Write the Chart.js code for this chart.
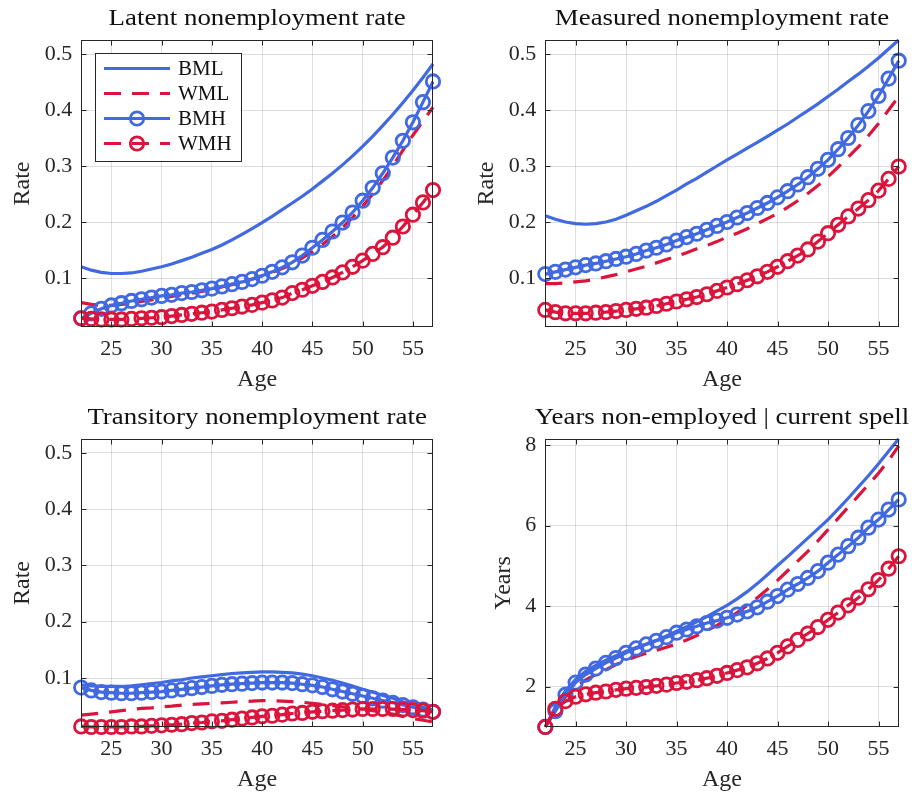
<!DOCTYPE html>
<html><head><meta charset="utf-8">
<script src="https://cdn.jsdelivr.net/npm/chart.js@4.4.1/dist/chart.umd.min.js"></script>
<style>
html,body{margin:0;padding:0;background:#fff;}
#wrap{position:relative;width:912px;height:796px;background:#fff;}
canvas{position:absolute;}
</style></head><body>
<div id="wrap">
<canvas id="c1" width="456" height="398" style="left:0;top:0"></canvas>
<canvas id="c2" width="456" height="398" style="left:456px;top:0"></canvas>
<canvas id="c3" width="456" height="398" style="left:0;top:398px"></canvas>
<canvas id="c4" width="456" height="398" style="left:456px;top:398px"></canvas>
</div>
<script>
const ages = [22,23,24,25,26,27,28,29,30,31,32,33,34,35,36,37,38,39,40,41,42,43,44,45,46,47,48,49,50,51,52,53,54,55,56,57];
const seriesNames = ['BML','WML','BMH','WMH'];
const xTicks = [25,30,35,40,45,50,55];
const rateTicks = [0.1,0.2,0.3,0.4,0.5];
const yearTicks = [2,4,6,8];

const latentBML = [0.120,0.114,0.110,0.108,0.108,0.109,0.112,0.116,0.120,0.125,0.131,0.137,0.144,0.151,0.159,0.168,0.178,0.188,0.199,0.210,0.222,0.234,0.246,0.259,0.273,0.287,0.302,0.318,0.335,0.353,0.372,0.392,0.413,0.435,0.458,0.482];
const latentWML = [0.056,0.053,0.051,0.051,0.053,0.055,0.058,0.061,0.064,0.067,0.070,0.073,0.076,0.080,0.084,0.088,0.093,0.098,0.104,0.110,0.117,0.125,0.136,0.147,0.160,0.174,0.190,0.208,0.228,0.250,0.274,0.300,0.328,0.355,0.380,0.405];
const latentBMH = [0.028,0.037,0.045,0.051,0.055,0.059,0.062,0.065,0.068,0.070,0.073,0.075,0.078,0.081,0.085,0.089,0.093,0.098,0.104,0.111,0.119,0.128,0.140,0.154,0.168,0.183,0.199,0.217,0.238,0.261,0.287,0.315,0.345,0.378,0.414,0.451];
const latentWMH = [0.028,0.027,0.026,0.026,0.026,0.027,0.028,0.029,0.030,0.032,0.034,0.036,0.038,0.040,0.043,0.046,0.049,0.052,0.056,0.060,0.065,0.073,0.079,0.086,0.093,0.101,0.110,0.120,0.131,0.143,0.155,0.172,0.192,0.213,0.235,0.257];

const measBML = [0.211,0.205,0.200,0.197,0.196,0.197,0.200,0.205,0.212,0.220,0.228,0.237,0.247,0.257,0.268,0.278,0.289,0.300,0.311,0.321,0.332,0.342,0.353,0.364,0.375,0.387,0.399,0.411,0.424,0.437,0.451,0.464,0.478,0.493,0.509,0.525];
const measWML = [0.090,0.090,0.091,0.093,0.095,0.098,0.102,0.106,0.111,0.116,0.121,0.127,0.133,0.139,0.145,0.152,0.158,0.165,0.173,0.180,0.188,0.197,0.206,0.215,0.226,0.238,0.251,0.265,0.281,0.298,0.316,0.334,0.354,0.376,0.400,0.424];
const measBMH = [0.107,0.111,0.115,0.119,0.123,0.126,0.130,0.134,0.138,0.143,0.149,0.154,0.160,0.167,0.173,0.179,0.186,0.193,0.200,0.208,0.216,0.225,0.234,0.244,0.255,0.267,0.280,0.295,0.311,0.330,0.350,0.373,0.398,0.425,0.456,0.488];
const measWMH = [0.043,0.039,0.037,0.037,0.037,0.038,0.039,0.041,0.043,0.045,0.047,0.050,0.054,0.058,0.062,0.066,0.071,0.077,0.083,0.089,0.096,0.103,0.111,0.120,0.130,0.140,0.151,0.165,0.180,0.195,0.210,0.224,0.239,0.256,0.277,0.299];

const transBML = [0.088,0.086,0.085,0.085,0.085,0.086,0.088,0.090,0.092,0.095,0.097,0.100,0.102,0.104,0.106,0.108,0.109,0.110,0.111,0.111,0.110,0.109,0.107,0.104,0.100,0.096,0.091,0.086,0.080,0.075,0.069,0.064,0.058,0.053,0.048,0.043];
const transWML = [0.034,0.036,0.038,0.040,0.042,0.044,0.046,0.047,0.049,0.050,0.052,0.053,0.054,0.055,0.056,0.057,0.058,0.059,0.060,0.060,0.059,0.058,0.057,0.055,0.053,0.051,0.049,0.047,0.045,0.042,0.039,0.036,0.032,0.028,0.025,0.022];
const transBMH = [0.083,0.078,0.075,0.074,0.073,0.073,0.074,0.075,0.076,0.078,0.080,0.082,0.084,0.086,0.088,0.089,0.090,0.091,0.092,0.092,0.092,0.091,0.089,0.087,0.084,0.080,0.076,0.072,0.068,0.064,0.060,0.056,0.052,0.048,0.044,0.040];
const transWMH = [0.014,0.013,0.013,0.013,0.013,0.014,0.014,0.015,0.016,0.017,0.018,0.020,0.021,0.023,0.024,0.026,0.028,0.030,0.032,0.033,0.035,0.037,0.038,0.040,0.041,0.042,0.043,0.044,0.045,0.045,0.045,0.045,0.044,0.043,0.042,0.040];

const yearsBML = [1.00,1.50,1.90,2.18,2.38,2.53,2.66,2.77,2.88,2.97,3.06,3.15,3.26,3.38,3.49,3.61,3.74,3.88,4.02,4.18,4.36,4.56,4.78,5.01,5.23,5.46,5.69,5.92,6.15,6.41,6.68,6.96,7.24,7.54,7.85,8.16];
const yearsWML = [1.00,1.40,1.75,2.00,2.17,2.30,2.42,2.55,2.65,2.75,2.83,2.90,2.98,3.06,3.16,3.27,3.39,3.52,3.67,3.84,4.02,4.21,4.42,4.64,4.88,5.12,5.36,5.62,5.90,6.18,6.46,6.74,7.02,7.30,7.62,7.98];
const yearsBMH = [1.00,1.39,1.80,2.10,2.30,2.45,2.59,2.71,2.84,2.95,3.05,3.14,3.23,3.34,3.42,3.50,3.58,3.64,3.71,3.79,3.87,3.97,4.11,4.25,4.41,4.55,4.70,4.87,5.08,5.28,5.49,5.70,5.95,6.15,6.40,6.65];
const yearsWMH = [1.00,1.45,1.64,1.75,1.81,1.85,1.88,1.92,1.95,1.97,1.99,2.02,2.05,2.09,2.12,2.16,2.21,2.27,2.34,2.41,2.48,2.58,2.70,2.84,3.00,3.16,3.32,3.48,3.66,3.84,4.02,4.21,4.42,4.65,4.93,5.24];

const BLUE = '#4169E1', RED = '#DC143C', INK = '#262626';
const FONT = '"Liberation Serif", "Times New Roman", serif';
const DASH = [17, 11];
const LW = 3.2, PR = 6.7, PBW = 2.8;

const styles = [
  {color: BLUE, dash: [], marker: false},
  {color: RED, dash: DASH, marker: false},
  {color: BLUE, dash: [], marker: true},
  {color: RED, dash: DASH, marker: true}
];

function makeDataset(vals, k) {
  const s = styles[k];
  return {
    label: seriesNames[k],
    data: ages.map((a, i) => ({x: a, y: vals[i]})),
    borderColor: s.color, backgroundColor: 'rgba(0,0,0,0)',
    borderWidth: LW, borderDash: s.dash, borderCapStyle: 'butt',
    pointRadius: s.marker ? PR : 0, pointHoverRadius: s.marker ? PR : 0,
    pointBorderWidth: PBW, pointBorderColor: s.color, pointBackgroundColor: 'rgba(0,0,0,0)',
    tension: 0, fill: false, clip: false, order: 4 - k
  };
}

const decor = {
  id: 'decor',
  afterDraw(chart, args, o) {
    const ctx = chart.ctx, a = chart.chartArea, xs = chart.scales.x, ys = chart.scales.y;
    ctx.save();
    ctx.strokeStyle = INK; ctx.lineWidth = 1; ctx.setLineDash([]);
    const L = Math.round(a.left) + 0.5, R = Math.round(a.right) - 0.5, T = Math.round(a.top) + 0.5, B = Math.round(a.bottom) - 0.5;
    ctx.strokeRect(L, T, R - L, B - T);
    const tl = 5;
    ctx.beginPath();
    xs.ticks.forEach(t => { const p = Math.round(xs.getPixelForValue(t.value)) + 0.5;
      ctx.moveTo(p, B); ctx.lineTo(p, B - tl); ctx.moveTo(p, T); ctx.lineTo(p, T + tl); });
    ys.ticks.forEach(t => { const p = Math.round(ys.getPixelForValue(t.value)) + 0.5;
      ctx.moveTo(L, p); ctx.lineTo(L + tl, p); ctx.moveTo(R, p); ctx.lineTo(R - tl, p); });
    ctx.stroke();
    ctx.fillStyle = '#111';
    ctx.textAlign = 'center'; ctx.textBaseline = 'alphabetic';
    ctx.font = '24px ' + FONT;
    ctx.save(); ctx.translate((a.left + a.right) / 2, a.top - 15); ctx.scale(o.stretch, 1);
    ctx.fillText(o.title, 0, 0); ctx.restore();
    ctx.fillStyle = INK;
    ctx.fillText('Age', (a.left + a.right) / 2, a.bottom + 59);
    ctx.save(); ctx.translate(a.left - o.yOff, (a.top + a.bottom) / 2); ctx.rotate(-Math.PI / 2);
    ctx.fillText(o.ylabel, 0, 0); ctx.restore();
    if (o.legend) {
      const bx = 95.5, by = 53.5, bw = 146, bh = 108;
      ctx.fillStyle = '#fff'; ctx.fillRect(bx, by, bw, bh);
      ctx.strokeStyle = INK; ctx.lineWidth = 1; ctx.strokeRect(bx, by, bw, bh);
      seriesNames.forEach((n, k) => {
        const s = styles[k], y = 68.5 + 25 * k;
        ctx.strokeStyle = s.color; ctx.lineWidth = LW; ctx.setLineDash(s.dash); ctx.lineCap = 'butt';
        ctx.beginPath(); ctx.moveTo(104, y); ctx.lineTo(170, y); ctx.stroke();
        ctx.setLineDash([]);
        if (s.marker) { ctx.lineWidth = PBW; ctx.beginPath(); ctx.arc(137, y, PR, 0, 2 * Math.PI); ctx.stroke(); }
        ctx.fillStyle = '#111'; ctx.font = '21px ' + FONT; ctx.textAlign = 'left'; ctx.textBaseline = 'middle';
        ctx.fillText(n, 178, y + 1);
      });
    }
    ctx.restore();
  }
};

function makeChart(id, arrays, cfg) {
  const tickFont = {family: FONT, size: 22};
  new Chart(document.getElementById(id), {
    type: 'line',
    data: {datasets: arrays.map((v, k) => makeDataset(v, k))},
    options: {
      responsive: false, animation: false, events: [],
      layout: {padding: {left: 0, top: cfg.top, right: cfg.right, bottom: 0}},
      plugins: {legend: {display: false}, tooltip: {enabled: false}, decor: cfg.decor},
      scales: {
        x: {type: 'linear', min: 22, max: 57,
          afterBuildTicks: s => { s.ticks = xTicks.map(v => ({value: v})); },
          afterFit: s => { s.height = cfg.xH; },
          grid: {color: 'rgba(38,38,38,0.15)', lineWidth: 1, drawTicks: false},
          border: {display: false},
          ticks: {font: tickFont, color: INK, padding: 9, maxRotation: 0, callback: v => String(v)}},
        y: {type: 'linear', min: cfg.ymin, max: cfg.ymax,
          afterBuildTicks: s => { s.ticks = cfg.yt.map(v => ({value: v})); },
          afterFit: s => { s.width = cfg.yW; },
          grid: {color: 'rgba(38,38,38,0.15)', lineWidth: 1, drawTicks: false},
          border: {display: false},
          ticks: {font: tickFont, color: INK, padding: 9, callback: v => String(v)}}
      }
    },
    plugins: [decor]
  });
}

makeChart('c1', [latentBML, latentWML, latentBMH, latentWMH],
  {top: 40, right: 23, xH: 71, yW: 81.2, ymin: 0.0125, ymax: 0.525, yt: rateTicks,
   decor: {title: 'Latent nonemployment rate', ylabel: 'Rate', yOff: 52, stretch: 1.12, legend: true}});
makeChart('c2', [measBML, measWML, measBMH, measWMH],
  {top: 40, right: 13.3, xH: 71, yW: 89.3, ymin: 0.0125, ymax: 0.525, yt: rateTicks,
   decor: {title: 'Measured nonemployment rate', ylabel: 'Rate', yOff: 52.6, stretch: 1.12, legend: false}});
makeChart('c3', [transBML, transWML, transBMH, transWMH],
  {top: 40.7, right: 23, xH: 68.7, yW: 81.2, ymin: 0.0125, ymax: 0.525, yt: rateTicks,
   decor: {title: 'Transitory nonemployment rate', ylabel: 'Rate', yOff: 52, stretch: 1.12, legend: false}});
makeChart('c4', [yearsBML, yearsWML, yearsBMH, yearsWMH],
  {top: 40.7, right: 13.3, xH: 68.7, yW: 89.3, ymin: 0.99, ymax: 8.16, yt: yearTicks,
   decor: {title: 'Years non-employed | current spell', ylabel: 'Years', yOff: 35, stretch: 1.12, legend: false}});
</script>
</body></html>
